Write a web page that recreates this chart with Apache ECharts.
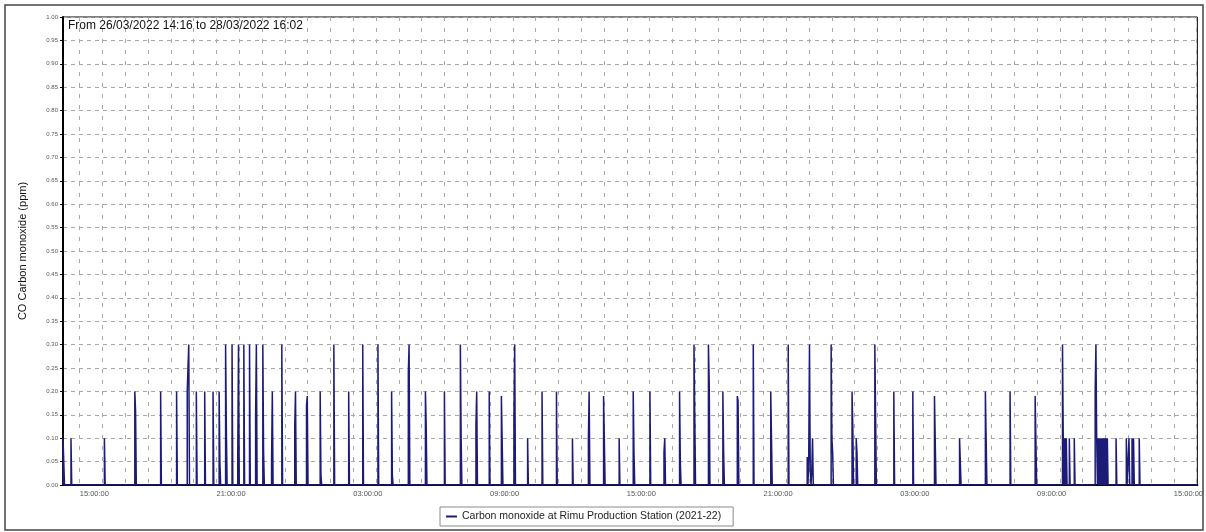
<!DOCTYPE html>
<html><head><meta charset="utf-8">
<script src="https://cdn.jsdelivr.net/npm/echarts@6/dist/echarts.min.js"></script>
<style>html,body{margin:0;padding:0;background:#fff}#c{width:1206px;height:532px}</style>
</head><body><div id="c"></div>
<script>
const seriesName = 'Carbon monoxide at Rimu Production Station (2021-22)';
const titleText = 'From 26/03/2022 14:16 to 28/03/2022 16:02';
const yAxisTitle = 'CO Carbon monoxide (ppm)';
const rangeStart = '26 14:16';
const rangeEnd = '28 16:02';
const sampleMinutes = 2;

// start of each non-zero episode (day hh:mm, March 2022)
const spikeStarts = [
  '26 14:16','26 14:37','26 16:05','26 17:25','26 18:33','26 19:15','26 19:43','26 20:07','26 20:29','26 20:51',
  '26 21:07','26 21:24','26 21:41','26 21:56','26 22:12','26 22:27','26 22:43','26 23:02','26 23:25','26 23:52',
  '27 00:26','27 00:57','27 01:33','27 02:09','27 02:48','27 03:25','27 04:05','27 04:41','27 05:25','27 06:10',
  '27 07:00','27 07:42','27 08:23','27 08:58','27 09:30','27 10:03','27 10:39','27 11:17','27 11:55','27 12:37',
  '27 13:19','27 13:59','27 14:40','27 15:17','27 16:01','27 16:38','27 17:19','27 17:57','27 18:35','27 19:13',
  '27 19:51','27 20:33','27 21:19','27 22:05','27 22:55','27 23:58','28 00:53','28 01:04','28 01:53','28 02:43',
  '28 03:33','28 04:30','28 05:36','28 06:44','28 07:49','28 08:55','28 10:07','28 10:25','28 10:38','28 11:33',
  '28 12:28','28 12:55','28 13:02','28 13:10','28 13:29'
];
// consecutive sample values (ppm) of each episode
const spikeLevels = [
  [0.10,0.10],[0.10],[0.10],[0.20,0.16],[0.20],[0.20],[0.20,0.20,0.30],[0.20],[0.20],[0.20],
  [0.20,0.05],[0.30,0.12],[0.30],[0.06,0.30],[0.30],[0.30],[0.15,0.30],[0.30,0.07],[0.05,0.20],[0.30],
  [0.125,0.20],[0.17,0.19],[0.20,0.02],[0.30],[0.20],[0.30],[0.30],[0.20,0.02],[0.24,0.30],[0.20,0.13],
  [0.20],[0.30,0.10],[0.13,0.20],[0.20],[0.19,0.19],[0.15,0.30],[0.10],[0.20],[0.20],[0.10],
  [0.10,0.20],[0.19,0.19],[0.10],[0.20,0.07],[0.20],[0.07,0.10],[0.20,0.05],[0.30,0.15],[0.30,0.22],[0.20,0.07],
  [0.19,0.18],[0.30],[0.20,0.10],[0.30],[0.06,0,0.06,0.30,0.03,0,0.03,0.10],[0.30,0.10,0.07],[0.20,0.125],[0.10,0.07],[0.30,0.15],[0.20],
  [0.20],[0.19,0.19],[0.10,0.05],[0.20,0.10],[0.20],[0.19,0.19],[0.30,0.10,0,0.10,0,0.10],[0.10],[0.10],
  [0.20,0.30,0.10,0,0.10,0,0.10,0,0.10,0,0.10,0,0.10,0,0.10,0,0.10],
  [0.10],[0.10],[0.10],[0.10,0,0.10],[0.10]
];

const xLabelTimes = ['26 15:00','26 21:00','27 03:00','27 09:00','27 15:00','27 21:00','28 03:00','28 09:00','28 15:00'];
const yTickValues = [0,0.05,0.10,0.15,0.20,0.25,0.30,0.35,0.40,0.45,0.50,0.55,0.60,0.65,0.70,0.75,0.80,0.85,0.90,0.95,1.00];

function toTime(s){const [d,hm]=s.split(' ');const [h,m]=hm.split(':').map(Number);return new Date(2022,2,+d,h,m).getTime();}
const MIN = 60000;
const tStart = toTime(rangeStart), tEnd = toTime(rangeEnd);

const seriesData = [[tStart, 0]];
spikeStarts.forEach((s, i) => {
  const t0 = toTime(s);
  spikeLevels[i].forEach((v, k) => seriesData.push([t0 + k*sampleMinutes*MIN, v]));
  seriesData.push([t0 + spikeLevels[i].length*sampleMinutes*MIN, 0]);
});
seriesData.push([tEnd, 0]);

// hourly grid positions
const hourTicks = [];
for (let t = toTime('26 15:00'); t <= tEnd; t += 60*MIN) hourTicks.push(t);

const pad = n => (n < 10 ? '0' : '') + n;
const chart = echarts.init(document.getElementById('c'), null, {renderer:'canvas'});
chart.setOption({
  animation: false,
  backgroundColor: '#fff',
  title: {
    text: titleText, left: 68, top: 20, padding: 0,
    textStyle: {fontFamily: 'Liberation Sans', fontSize: 12, fontWeight: 'normal', color: '#111'}
  },
  legend: {
    data: [{name: seriesName, icon: 'rect'}],
    left: 440, top: 507, orient: 'horizontal',
    padding: [4, 12, 4, 6], borderColor: '#8a8a8a', borderWidth: 1, backgroundColor: '#fff',
    itemWidth: 11, itemHeight: 2,
    textStyle: {fontFamily: 'Liberation Sans', fontSize: 10.5, color: '#222'}
  },
  grid: {left: 63, right: 7, top: 17, bottom: 47, show: true, borderColor: '#000', borderWidth: 1, backgroundColor: '#fff'},
  xAxis: {
    type: 'value', min: tStart, max: tEnd, scale: true,
    axisLine: {show: true, lineStyle: {color: '#000', width: 2}},
    axisTick: {show: false, customValues: hourTicks},
    axisLabel: {
      customValues: xLabelTimes.map(toTime),
      align: 'left', margin: 5,
      fontFamily: 'Liberation Sans', fontSize: 7.5, color: '#555',
      formatter: v => pad(new Date(v).getHours()) + ':00:00'
    },
    splitLine: {show: true, lineStyle: {color: '#a8a8a8', type: [4, 7], width: 1}}
  },
  yAxis: {
    type: 'value', min: 0, max: 1, interval: 0.05,
    name: yAxisTitle, nameLocation: 'middle', nameGap: 35,
    nameTextStyle: {fontFamily: 'Liberation Sans', fontSize: 11, color: '#111'},
    axisLine: {show: true, lineStyle: {color: '#000', width: 2}},
    axisTick: {show: true, length: 3, lineStyle: {color: '#000'}},
    axisLabel: {
      customValues: yTickValues,
      margin: 5, fontFamily: 'Liberation Sans', fontSize: 6, color: '#555',
      formatter: v => v.toFixed(2)
    },
    splitLine: {show: true, lineStyle: {color: '#a8a8a8', type: [4, 4], width: 1}}
  },
  graphic: [{
    type: 'rect', silent: true, z: -1,
    shape: {x: 5, y: 5, width: 1198, height: 525},
    style: {fill: 'none', stroke: '#444', lineWidth: 1.5}
  }],
  series: [{
    name: seriesName, type: 'line', step: 'end',
    data: seriesData, showSymbol: false, symbol: 'none',
    color: '#1c1c78',
    lineStyle: {color: '#1c1c78', width: 1.5}
  }]
});
</script></body></html>
